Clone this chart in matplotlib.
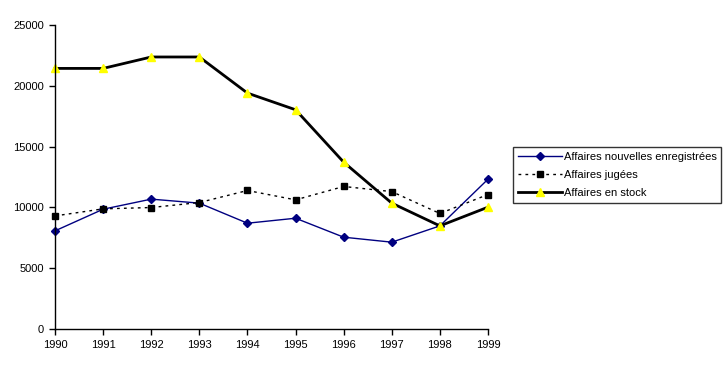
import matplotlib.pyplot as plt

plt.rcParams['font.family'] = ['Liberation Sans', 'DejaVu Sans']

years = [1990, 1991, 1992, 1993, 1994, 1995, 1996, 1997, 1998, 1999]
nouvelles = [8070, 9850, 10680, 10350, 8700, 9110, 7550, 7140, 8480, 12320]
jugees = [9300, 9880, 9990, 10400, 11390, 10620, 11720, 11300, 9500, 11060]
stock = [21430, 21430, 22370, 22370, 19400, 18030, 13720, 10350, 8480, 10020]

fig = plt.figure(figsize=(7.26, 3.71), dpi=100)
ax = fig.add_axes([55 / 726, 42 / 371, 433 / 726, 304 / 371])

ax.plot(years, nouvelles, color='#000080', lw=1, marker='D', ms=4,
        mfc='#000080', mec='#000080', label='Affaires nouvelles enregistrées')
ax.plot(years, jugees, color='black', lw=1, ls=(0, (2, 3)), marker='s', ms=5,
        mfc='black', mec='black', label='Affaires jugées')
ax.plot(years, stock, color='black', lw=2, marker='^', ms=6,
        mfc='#ffff00', mec='#ffff00', label='Affaires en stock')

ax.set_xlim(1990, 1999)
ax.set_ylim(0, 25000)
ax.set_xticks(years)
ax.set_yticks(range(0, 25001, 5000))
ax.spines['top'].set_visible(False)
ax.spines['right'].set_visible(False)
for s in ['left', 'bottom']:
    ax.spines[s].set_linewidth(1)
ax.tick_params(direction='out', length=4, width=1, labelsize=8, pad=4)
for line in ax.lines:
    line.set_clip_on(False)

leg = fig.legend(loc='upper left', bbox_to_anchor=(513 / 726, 1 - 147 / 371),
                 fontsize=8, frameon=True, fancybox=False, edgecolor='black',
                 borderpad=0.45, labelspacing=0.72, handlelength=4, handletextpad=0.1,
                 borderaxespad=0)
leg.get_frame().set_linewidth(1)

fig.savefig('out.png', dpi=100)
